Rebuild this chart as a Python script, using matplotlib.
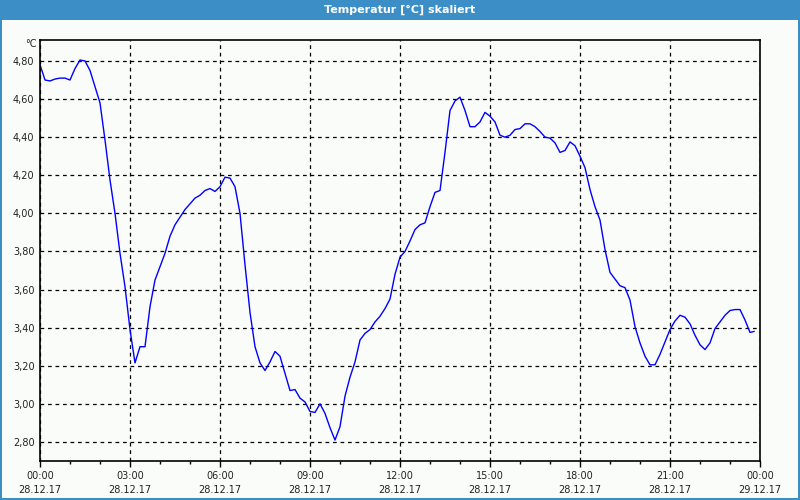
import numpy as np
import matplotlib
matplotlib.use("Agg")
import matplotlib.pyplot as plt
from matplotlib.ticker import MultipleLocator, FuncFormatter
from matplotlib.patches import Rectangle

# minutes since 28.12.17 00:00 and temperature in degC
minutes = [0, 10, 20, 30, 40, 50, 60, 70, 80, 90, 100, 110, 120, 130, 140, 150,
           160, 170, 180, 190, 200, 210, 220, 230, 240, 250, 260, 270, 280, 290,
           300, 310, 320, 330, 340, 350, 360, 370, 380, 390, 400, 410, 420, 430,
           440, 450, 460, 470, 480, 490, 500, 510, 520, 530, 540, 550, 560, 570,
           580, 590, 600, 610, 620, 630, 640, 650, 660, 670, 680, 690, 700, 710,
           720, 730, 740, 750, 760, 770, 780, 790, 800, 810, 820, 830, 840, 850,
           860, 870, 880, 890, 900, 910, 920, 930, 940, 950, 960, 970, 980, 990,
           1000, 1010, 1020, 1030, 1040, 1050, 1060, 1070, 1080, 1090, 1100, 1110,
           1120, 1130, 1140, 1150, 1160, 1170, 1180, 1190, 1200, 1210, 1220, 1230,
           1240, 1250, 1260, 1270, 1280, 1290, 1300, 1310, 1320, 1330, 1340, 1350,
           1360, 1370, 1380, 1390, 1400, 1410, 1420, 1428]
temps = [4.78, 4.70, 4.695, 4.705, 4.71, 4.71, 4.70, 4.76, 4.805, 4.80, 4.75, 4.665,
         4.58, 4.385, 4.175, 4.00, 3.79, 3.615, 3.39, 3.215, 3.30, 3.30, 3.51, 3.65,
         3.72, 3.79, 3.88, 3.94, 3.98, 4.02, 4.05, 4.08, 4.095, 4.12, 4.13, 4.115,
         4.14, 4.19, 4.185, 4.14, 4.00, 3.73, 3.48, 3.30, 3.215, 3.175, 3.22, 3.275,
         3.25, 3.16, 3.07, 3.075, 3.03, 3.01, 2.96, 2.955, 3.00, 2.95, 2.875, 2.81,
         2.88, 3.04, 3.14, 3.22, 3.335, 3.37, 3.39, 3.43, 3.46, 3.50, 3.55, 3.68,
         3.77, 3.80, 3.855, 3.915, 3.94, 3.95, 4.035, 4.11, 4.12, 4.32, 4.54, 4.59,
         4.61, 4.54, 4.455, 4.455, 4.48, 4.53, 4.51, 4.48, 4.41, 4.40, 4.41, 4.44,
         4.445, 4.47, 4.47, 4.455, 4.43, 4.40, 4.395, 4.37, 4.32, 4.33, 4.375, 4.355,
         4.30, 4.24, 4.125, 4.035, 3.965, 3.81, 3.69, 3.655, 3.62, 3.61, 3.545, 3.405,
         3.32, 3.25, 3.205, 3.205, 3.26, 3.325, 3.39, 3.435, 3.465, 3.455, 3.42, 3.36,
         3.31, 3.285, 3.32, 3.395, 3.43, 3.465, 3.49, 3.495, 3.495, 3.44, 3.375, 3.38]

x_ticks = [0, 3, 6, 9, 12, 15, 18, 21, 24]
x_labels = ["00:00\n28.12.17", "03:00\n28.12.17", "06:00\n28.12.17", "09:00\n28.12.17",
            "12:00\n28.12.17", "15:00\n28.12.17", "18:00\n28.12.17", "21:00\n28.12.17",
            "00:00\n29.12.17"]
title = "Temperatur [°C] skaliert"

hours = np.array(minutes) / 60.0

fig = plt.figure(figsize=(8, 5), dpi=100)
fig.patch.set_facecolor("#fafcfa")

# title bar and window border
bar_col = "#3c8fc6"
fig.patches.append(Rectangle((0, 0.96), 1, 0.04, transform=fig.transFigure,
                             facecolor=bar_col, edgecolor="none", zorder=0))
for r in [(0, 0, 0.0025, 1), (0.9975, 0, 0.0025, 1), (0, 0, 1, 0.004)]:
    fig.patches.append(Rectangle(r[:2], r[2], r[3], transform=fig.transFigure,
                                 facecolor=bar_col, edgecolor="none", zorder=0))
fig.text(0.5, 0.98, title, color="white", fontsize=8, fontweight="bold",
         ha="center", va="center")

ax = fig.add_axes([0.05, 0.078, 0.90, 0.842])
ax.set_facecolor("#fafcfa")
ax.plot(hours, temps, color="#0000ff", linewidth=1)

ax.set_xlim(0, 24)
ax.set_ylim(2.70, 4.91)
ax.set_xticks(x_ticks, x_labels)
ax.xaxis.set_minor_locator(MultipleLocator(1))
ax.set_yticks(np.arange(2.8, 4.81, 0.2))
ax.yaxis.set_major_formatter(FuncFormatter(lambda v, p: f"{v:.2f}".replace(".", ",")))

ax.grid(True, color="black", linestyle=(0, (3, 3)), linewidth=0.9)
ax.tick_params(axis="x", which="major", length=4, width=1, labelsize=7,
               pad=3, colors="black", labelcolor="#222222")
ax.tick_params(axis="x", which="minor", length=2, width=1)
ax.tick_params(axis="y", length=0, labelsize=7, pad=4, labelcolor="#222222")
for lab in ax.get_xticklabels():
    lab.set_linespacing(1.55)
for s in ax.spines.values():
    s.set_color("black")
    s.set_linewidth(1.2)

ax.text(-0.005, 1.003, "°C", transform=ax.transAxes, ha="right", va="top",
        fontsize=7, color="#222222")

fig.savefig("out.png", dpi=100, facecolor=fig.get_facecolor())
